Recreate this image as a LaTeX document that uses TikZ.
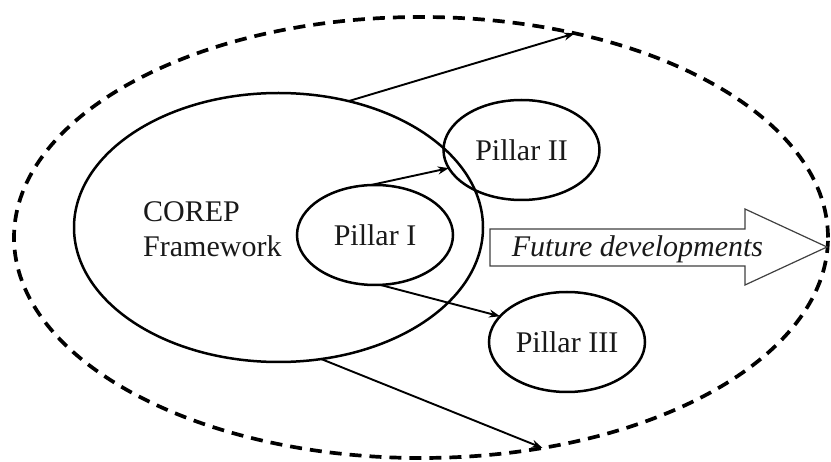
\documentclass[tikz,border=0pt]{standalone}
\usepackage{fontspec}
\setmainfont{Liberation Serif}
\usetikzlibrary{shapes.geometric,arrows.meta}
\begin{document}
\begin{tikzpicture}[x=1pt,y=-1pt,
  txt/.style={font=\fontsize{30}{35}\selectfont, text=black!90},
  oval/.style={ellipse, draw, line width=2.5pt, inner sep=0pt, outer sep=0pt},
  pillar/.style={oval, txt, minimum width=156pt, minimum height=100pt},
  link/.style={line width=1.9pt, -{Stealth[length=11pt,width=8pt]}},
  bigarrow/.style={draw=black!75, line width=1.2pt, fill=white}]
  \useasboundingbox (0,0) rectangle (831,462);

  % outer dashed boundary
  \node[ellipse, draw, dash pattern=on 12pt off 8pt, line width=3.7pt,
        inner sep=0pt, outer sep=0pt,
        minimum width=814pt, minimum height=441pt] (outer) at (421,237.5) {};

  % the framework and its label
  \node[oval, minimum width=409pt, minimum height=269pt] (fw) at (278.5,227.5) {};
  \node[txt, anchor=base west, align=left, inner sep=0pt] (fwtext) at (143,257)
        {COREP\\Framework};

  % the three pillars
  \node[pillar] (p1) at (375,235) {Pillar I};
  \node[pillar] (p2) at (521.5,150) {Pillar II};
  \node[pillar] (p3) at (567,342) {Pillar III};

  % connectors
  \draw[link] (fw.61.9) -- (outer.53.7);
  \draw[link] (fw.-72.7) -- (outer.-60.5);
  \draw[link] (p1.95.5) -- (p2.194.7);
  \draw[link] (p1.-84.3) -- (p3.159.4);

  % block arrow with its caption
  \draw[bigarrow] (490,229) -- (745,229) -- (745,209) -- (827,247)
        -- (745,285) -- (745,266) -- (490,266) -- cycle;
  \node[txt, anchor=base, inner sep=0pt] (future) at (637.5,257)
        {\itshape Future developments};
\end{tikzpicture}
\end{document}
